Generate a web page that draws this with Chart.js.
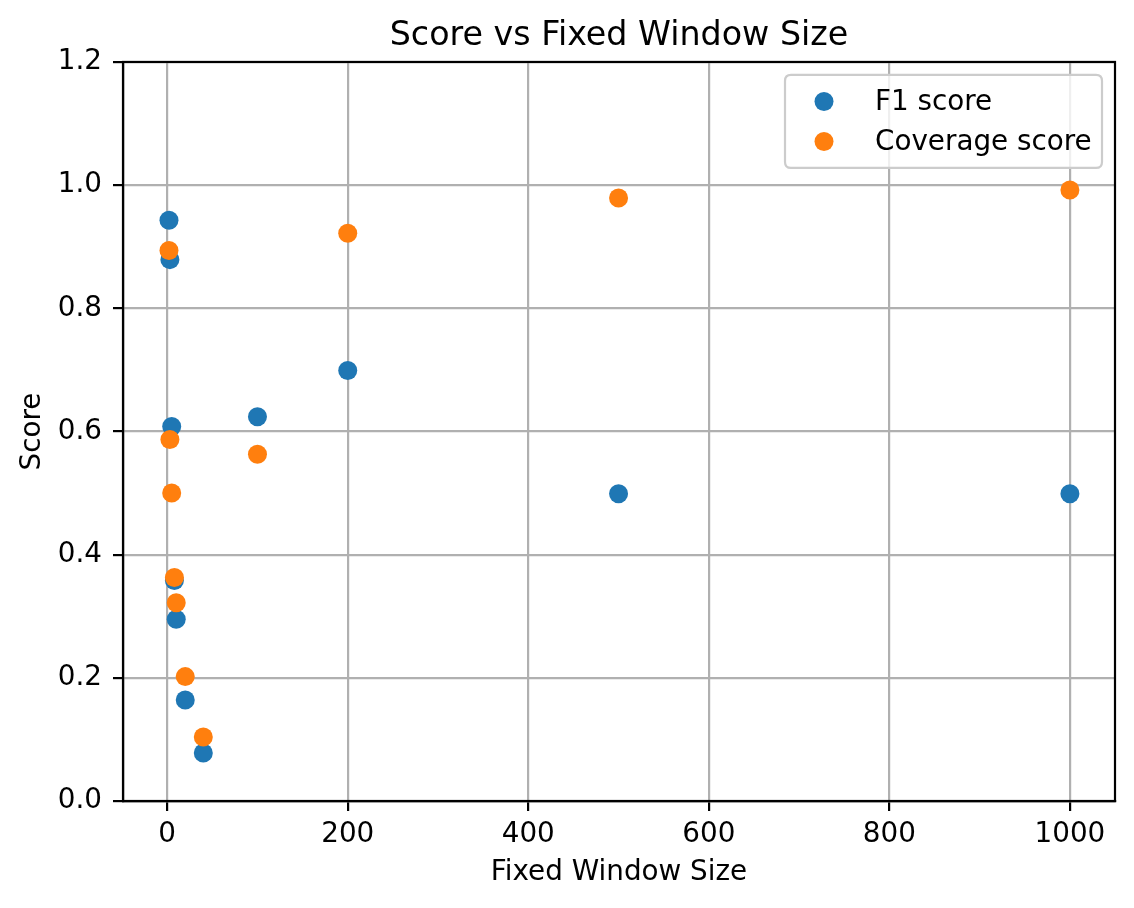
<!DOCTYPE html>
<html>
<head>
<meta charset="utf-8">
<script src="https://cdn.jsdelivr.net/npm/chart.js@4.4.1/dist/chart.umd.min.js"></script>
<style>
  html, body { margin: 0; padding: 0; background: #ffffff; }
  #wrap { width: 1134px; height: 908px; }
</style>
</head>
<body>
<div id="wrap"><canvas id="c" width="1134" height="908"></canvas></div>
<script>
const windowSizes = [2, 3, 5, 8, 10, 20, 40, 100, 200, 500, 1000];
const f1Scores = [0.943, 0.879, 0.608, 0.358, 0.295, 0.164, 0.078, 0.624, 0.699, 0.499, 0.499];
const coverageScores = [0.894, 0.587, 0.500, 0.363, 0.322, 0.202, 0.104, 0.563, 0.922, 0.979, 0.992];
const xTickValues = [0, 200, 400, 600, 800, 1000];
const yTickValues = [0, 0.2, 0.4, 0.6, 0.8, 1.0, 1.2];
const seriesLabels = ['F1 score', 'Coverage score'];
const seriesColors = ['#1f77b4', '#ff7f0e'];

const FONT = 'DejaVu Sans';
const TICK_SIZE = 27.8;

function toPoints(xs, ys) { return xs.map((x, i) => ({ x: x, y: ys[i] })); }

const frameAndLegend = {
  id: 'frameAndLegend',
  afterDraw(chart) {
    const ctx = chart.ctx;
    const a = chart.chartArea;
    ctx.save();
    ctx.strokeStyle = '#000000';
    ctx.lineWidth = 2.2;
    ctx.strokeRect(a.left, a.top, a.right - a.left, a.bottom - a.top);

    // legend (matplotlib style, upper right)
    const boxW = 317, boxH = 93;
    const bx = a.right - 13 - boxW, by = a.top + 13;
    const r = 6;
    ctx.beginPath();
    ctx.moveTo(bx + r, by);
    ctx.lineTo(bx + boxW - r, by);
    ctx.quadraticCurveTo(bx + boxW, by, bx + boxW, by + r);
    ctx.lineTo(bx + boxW, by + boxH - r);
    ctx.quadraticCurveTo(bx + boxW, by + boxH, bx + boxW - r, by + boxH);
    ctx.lineTo(bx + r, by + boxH);
    ctx.quadraticCurveTo(bx, by + boxH, bx, by + boxH - r);
    ctx.lineTo(bx, by + r);
    ctx.quadraticCurveTo(bx, by, bx + r, by);
    ctx.closePath();
    ctx.fillStyle = 'rgba(255,255,255,0.8)';
    ctx.fill();
    ctx.strokeStyle = '#cccccc';
    ctx.lineWidth = 2.2;
    ctx.stroke();

    ctx.font = TICK_SIZE + 'px "' + FONT + '"';
    ctx.textBaseline = 'middle';
    ctx.textAlign = 'left';
    chart.data.datasets.forEach((ds, i) => {
      const cy = by + 26.5 + i * 40;
      ctx.beginPath();
      ctx.arc(bx + 39, cy, 9.5, 0, Math.PI * 2);
      ctx.fillStyle = ds.backgroundColor;
      ctx.fill();
      ctx.fillStyle = '#000000';
      ctx.fillText(ds.label, bx + 90, cy + 1);
    });
    ctx.restore();
  }
};

new Chart(document.getElementById('c'), {
  type: 'scatter',
  data: {
    datasets: [
      { label: seriesLabels[0], data: toPoints(windowSizes, f1Scores),
        backgroundColor: seriesColors[0], borderColor: seriesColors[0], borderWidth: 0,
        pointRadius: 9.5, pointHoverRadius: 9.5, order: 1 },
      { label: seriesLabels[1], data: toPoints(windowSizes, coverageScores),
        backgroundColor: seriesColors[1], borderColor: seriesColors[1], borderWidth: 0,
        pointRadius: 9.5, pointHoverRadius: 9.5, order: 0 }
    ]
  },
  options: {
    responsive: false,
    animation: false,
    devicePixelRatio: 1,
    layout: { padding: { left: 0, right: 19, top: 0, bottom: 0 } },
    plugins: {
      legend: { display: false },
      tooltip: { enabled: false },
      title: {
        display: true,
        text: 'Score vs Fixed Window Size',
        fullSize: false,
        color: '#000000',
        font: { family: FONT, size: 33.3, weight: 'normal', lineHeight: 1.2 },
        padding: { top: 16, bottom: 6 }
      }
    },
    scales: {
      x: {
        type: 'linear',
        min: -48.95,
        max: 1049.95,
        afterBuildTicks(scale) { scale.ticks = xTickValues.map(v => ({ value: v })); },
        afterFit(scale) { scale.height = 107; },
        grid: { color: '#b0b0b0', lineWidth: 2.2, tickColor: '#000000', tickLength: 10, tickWidth: 2.2 },
        border: { display: true, color: '#000000', width: 2.2 },
        ticks: { color: '#000000', font: { family: FONT, size: TICK_SIZE }, padding: 7, maxRotation: 0,
                 callback: v => String(v) },
        title: { display: true, text: 'Fixed Window Size', color: '#000000',
                 font: { family: FONT, size: TICK_SIZE, lineHeight: 1.2 }, padding: { top: 0, bottom: 19 } }
      },
      y: {
        type: 'linear',
        min: 0,
        max: 1.2,
        afterBuildTicks(scale) { scale.ticks = yTickValues.map(v => ({ value: v })); },
        afterFit(scale) { scale.width = 123; },
        grid: { color: '#b0b0b0', lineWidth: 2.2, tickColor: '#000000', tickLength: 10, tickWidth: 2.2 },
        border: { display: true, color: '#000000', width: 2.2 },
        ticks: { color: '#000000', font: { family: FONT, size: TICK_SIZE }, padding: 11,
                 callback: v => Number(v).toFixed(1) },
        title: { display: true, text: 'Score', color: '#000000',
                 font: { family: FONT, size: TICK_SIZE, lineHeight: 1.2 }, padding: { top: 16, bottom: 0 } }
      }
    }
  },
  plugins: [frameAndLegend]
});
</script>
</body>
</html>
